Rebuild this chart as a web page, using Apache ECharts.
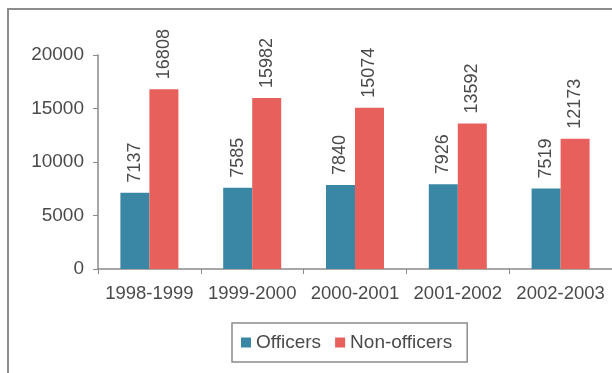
<!DOCTYPE html>
<html>
<head>
<meta charset="utf-8">
<script src="https://cdn.jsdelivr.net/npm/echarts@6/dist/echarts.min.js"></script>
<style>
  html, body { margin: 0; padding: 0; background: #ffffff; }
  #chart { width: 612px; height: 373px; }
</style>
</head>
<body>
<div id="chart"></div>
<script>
// Staff strength by year
const categories = ['1998-1999', '1999-2000', '2000-2001', '2001-2002', '2002-2003'];
const officers = [7137, 7585, 7840, 7926, 7519];
const nonOfficers = [16808, 15982, 15074, 13592, 12173];
const yTicks = { min: 0, max: 20000, interval: 5000 };

const FONT = '"Liberation Sans", Arial, sans-serif';
const TEXT = '#4a4a4a';
const AXIS = '#8a8a8a';

const chart = echarts.init(document.getElementById('chart'), null, { renderer: 'canvas' });

const valueLabel = {
  show: true,
  position: 'top',
  rotate: 90,
  align: 'left',
  verticalAlign: 'middle',
  distance: 10,
  color: TEXT,
  fontFamily: FONT,
  fontSize: 18
};

chart.setOption({
  backgroundColor: '#ffffff',
  animation: false,
  graphic: [{
    type: 'rect',
    shape: { x: 8, y: 9, width: 700, height: 500 },
    style: { fill: 'none', stroke: '#8c8c8c', lineWidth: 2 },
    silent: true,
    z: -1
  }],
  grid: { left: 98, top: 55, right: -3, bottom: 104, containLabel: false },
  legend: {
    left: 232,
    top: 323,
    itemWidth: 10,
    itemHeight: 10,
    itemGap: 14,
    icon: 'rect',
    padding: [10, 15, 10, 9],
    borderColor: '#8c8c8c',
    borderWidth: 1.5,
    textStyle: { color: TEXT, fontFamily: FONT, fontSize: 19 },
    data: ['Officers', 'Non-officers']
  },
  xAxis: {
    type: 'category',
    data: categories,
    axisLine: { lineStyle: { color: AXIS, width: 1.5 } },
    axisTick: { show: true, length: 5, alignWithLabel: false, lineStyle: { color: AXIS } },
    axisLabel: { color: TEXT, fontFamily: FONT, fontSize: 18.5, margin: 15, interval: 0 }
  },
  yAxis: {
    type: 'value',
    min: yTicks.min,
    max: yTicks.max,
    interval: yTicks.interval,
    axisLine: { show: true, lineStyle: { color: AXIS, width: 1.5 } },
    axisTick: { show: true, length: 5, lineStyle: { color: AXIS } },
    splitLine: { show: false },
    axisLabel: {
      color: TEXT, fontFamily: FONT, fontSize: 19, margin: 14,
      formatter: (v) => String(v)
    }
  },
  series: [
    {
      name: 'Officers',
      type: 'bar',
      data: officers,
      barWidth: 29,
      barGap: '0%',
      itemStyle: { color: '#3a86a5' },
      label: valueLabel
    },
    {
      name: 'Non-officers',
      type: 'bar',
      data: nonOfficers,
      barWidth: 29,
      barGap: '0%',
      itemStyle: { color: '#e8605c' },
      label: valueLabel
    }
  ]
});
</script>
</body>
</html>
